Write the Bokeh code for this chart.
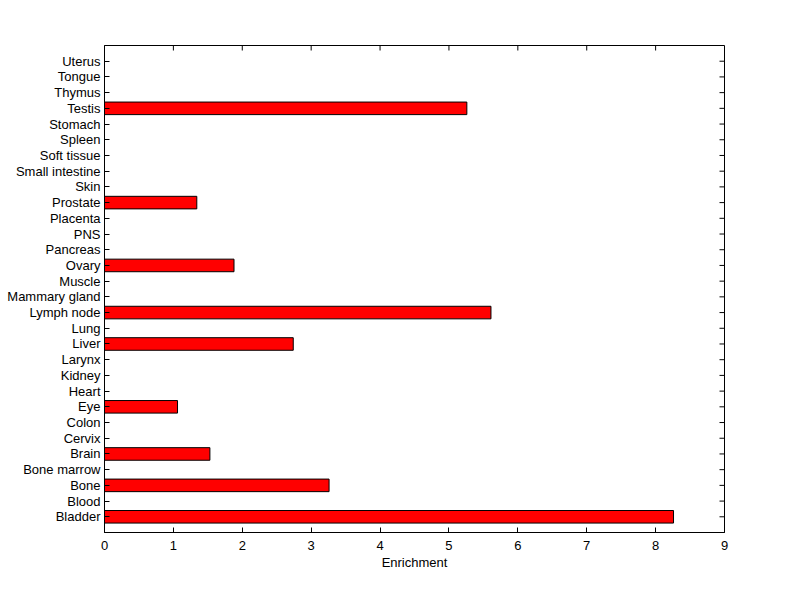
import math
from bokeh.plotting import figure
from bokeh.models import Range1d, LinearAxis, FixedTicker, ColumnDataSource
from bokeh.embed import file_html
from bokeh.resources import INLINE

categories = ["Bladder", "Blood", "Bone", "Bone marrow", "Brain", "Cervix", "Colon", "Eye",
              "Heart", "Kidney", "Larynx", "Liver", "Lung", "Lymph node", "Mammary gland",
              "Muscle", "Ovary", "Pancreas", "PNS", "Placenta", "Prostate", "Skin",
              "Small intestine", "Soft tissue", "Spleen", "Stomach", "Testis", "Thymus",
              "Tongue", "Uterus"]
enrichment = [8.26, 0, 3.26, 0, 1.53, 0, 0, 1.06,
              0, 0, 0, 2.74, 0, 5.61, 0,
              0, 1.88, 0, 0, 0, 1.34, 0,
              0, 0, 0, 0, 5.26, 0,
              0, 0]
x_ticks = [0, 1, 2, 3, 4, 5, 6, 7, 8, 9]

positions = list(range(1, len(categories) + 1))
x_max = x_ticks[-1]
y_max = len(categories) + 1

FONT = "Liberation Sans"
FS = "13px"

p = figure(frame_width=620, frame_height=487, output_backend="svg", toolbar_location=None,
           x_range=Range1d(0, x_max), y_range=Range1d(0, y_max),
           min_border_left=104, min_border_top=45, min_border_right=68, min_border_bottom=59,
           x_axis_location=None, y_axis_location=None)
p.grid.visible = False
p.outline_line_color = "black"
p.outline_line_width = 1
p.background_fill_color = "white"
p.border_fill_color = "white"

nz = [i for i, v in enumerate(enrichment) if v > 0]
src = ColumnDataSource(dict(y=[positions[i] for i in nz], right=[enrichment[i] for i in nz]))
p.hbar(y="y", left=0, right="right", height=0.8, source=src,
       fill_color="#FF0000", line_color="black", line_width=1)

# inward ticks on the right and top edges (box on)
p.ray(x=[x_max] * len(positions), y=positions, length=5, length_units="screen",
      angle=math.pi, line_color="black", line_width=1)
p.ray(x=x_ticks, y=[y_max] * len(x_ticks), length=5, length_units="screen",
      angle=-math.pi / 2, line_color="black", line_width=1)

ytick = FixedTicker(ticks=positions)
xtick = FixedTicker(ticks=x_ticks)
overrides = {p_: c for p_, c in zip(positions, categories)}

def style(ax):
    ax.axis_line_color = "black"
    ax.major_tick_line_color = "black"
    ax.major_tick_in = 5
    ax.major_tick_out = 0
    ax.minor_tick_line_color = None
    ax.major_label_text_font = FONT
    ax.major_label_text_font_size = FS
    ax.major_label_text_color = "black"
    ax.axis_label_text_font = FONT
    ax.axis_label_text_font_size = FS
    ax.axis_label_text_font_style = "normal"
    ax.axis_label_text_color = "black"

left = LinearAxis(ticker=ytick, major_label_overrides=overrides)
style(left)
left.major_label_standoff = 4
p.add_layout(left, "left")

bottom = LinearAxis(ticker=xtick, axis_label="Enrichment")
style(bottom)
bottom.major_label_standoff = 8
bottom.axis_label_standoff = 2
p.add_layout(bottom, "below")

open("out.html", "w").write(file_html(p, INLINE))
